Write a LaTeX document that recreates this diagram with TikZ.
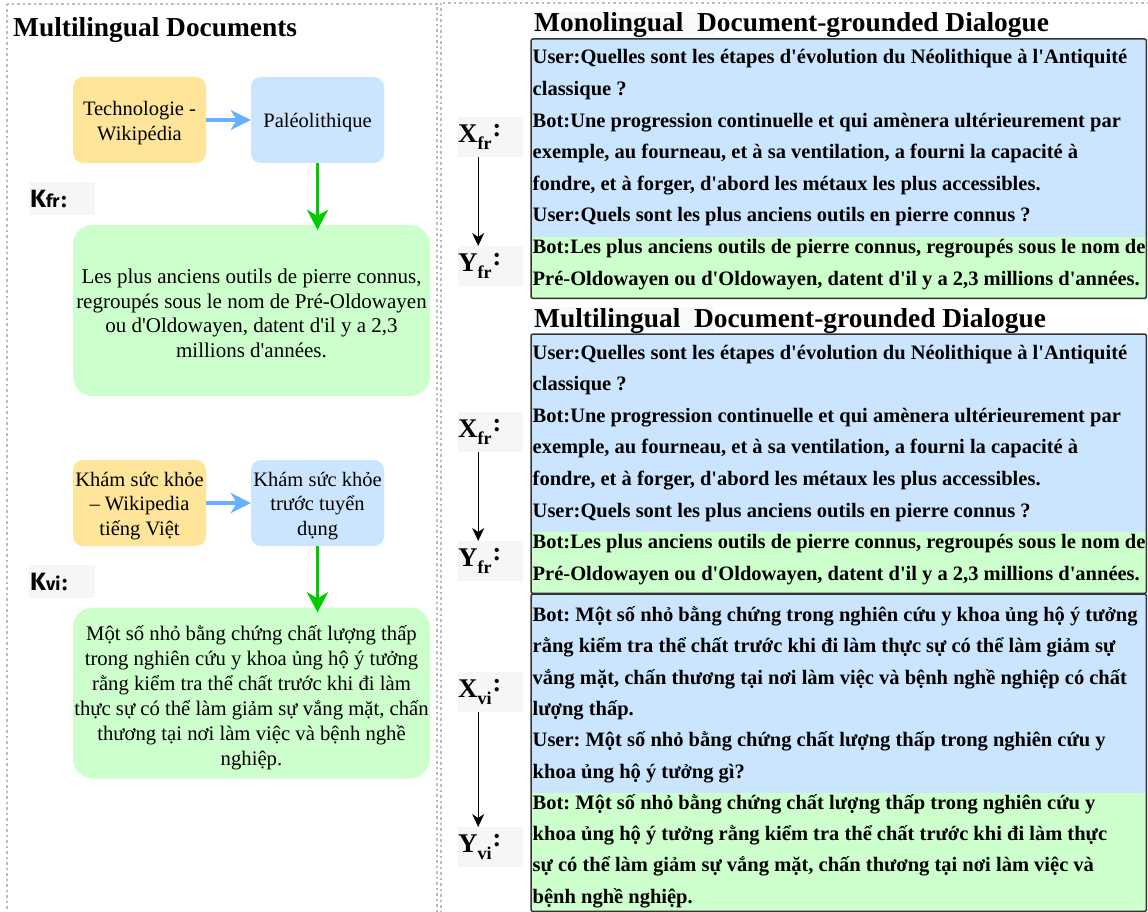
\documentclass[tikz,border=0pt]{standalone}
\usepackage{fontspec}
\setmainfont{Liberation Serif}[Ligatures=TeXOff]
\newfontfamily\kfont{Fira Sans}
\usetikzlibrary{arrows.meta}
\definecolor{boxorange}{HTML}{FFE599}
\definecolor{boxblue}{HTML}{CCE5FF}
\definecolor{boxgreen}{HTML}{CCFFCC}
\definecolor{arrowblue}{HTML}{66B2FF}
\definecolor{arrowgreen}{HTML}{00CC00}
\definecolor{labbg}{HTML}{F5F6F8}
\definecolor{titlebg}{HTML}{F8F9FA}
\definecolor{panelgray}{HTML}{BDBDBD}
\definecolor{framegray}{HTML}{333333}
\frenchspacing
\newcommand\dlab[2]{{\fontsize{27}{27}\selectfont\bfseries #1}\raisebox{-7pt}{\fontsize{18}{18}\selectfont\bfseries #2}\kern1pt\raisebox{6pt}{\fontsize{26}{26}\selectfont\bfseries :}}
\newcommand\klab[2]{{\kfont\bfseries\fontsize{25}{25}\selectfont #1}{\kfont\bfseries\fontsize{18}{18}\selectfont #2}\,{\kfont\bfseries\fontsize{22}{22}\selectfont :}}
\tikzset{
  panel/.style={draw=panelgray, line width=2.5pt, dash pattern=on 2.5pt off 3pt},
  sbox/.style={rounded corners=10pt, minimum width=133pt, minimum height=86pt, inner sep=0pt},
  obox/.style={sbox, fill=boxorange},
  bbox/.style={sbox, fill=boxblue},
  stext/.style={inner sep=0pt, align=center, font=\fontsize{20.5}{24.5}\selectfont},
  gbox/.style={rounded corners=20pt, fill=boxgreen, minimum width=357pt, minimum height=171pt, inner sep=0pt},
  gtext/.style={inner sep=0pt, align=center, font=\fontsize{21}{24.5}\selectfont},
  barrow/.style={draw=arrowblue, line width=3.5pt, -{Stealth[length=20pt,width=20pt,inset=6pt]}},
  garrow/.style={draw=arrowgreen, line width=3.5pt, -{Stealth[length=20pt,width=21pt,inset=6pt]}},
  karrow/.style={draw=black, line width=1.3pt, -{Stealth[length=13pt,width=12pt,inset=4pt]}},
  klabel/.style={fill=labbg, anchor=north west, text width=64pt, minimum height=33pt, inner sep=1pt, align=left},
  xlabel/.style={fill=labbg, anchor=north west, text width=65pt, minimum height=40pt, inner sep=0pt, align=left},
  ttl/.style={anchor=base west, inner sep=0pt, font=\fontsize{27.4}{27.4}\selectfont\bfseries},
  rt/.style={anchor=base west, inner sep=0pt, font=\fontsize{20.5}{20.5}\selectfont\bfseries},
  bpart/.style={fill=boxblue, anchor=north west, minimum width=615pt, inner sep=0pt},
  gpart/.style={fill=boxgreen, anchor=north west, minimum width=615pt, inner sep=0pt},
  frame/.style={draw=framegray, line width=1.5pt, rounded corners=2pt},
}
\begin{document}
\begin{tikzpicture}[x=1pt,y=-1pt]
\useasboundingbox (0,0) rectangle (1148,912);
\fill[white] (0,0) rectangle (1148,912);
% panels
\draw[panel] (7,4) rectangle (437,925);
\draw[panel] (441,3) rectangle (1160,925);
% ---------------- left panel
\node[ttl] (lt) at (13,37) {Multilingual Documents};
\node[obox] (tw) at (139.5,120) {};
\node[stext] (twt) at ([yshift=-3pt]tw.center) {Technologie -\\Wikipédia};
\node[bbox] (pal) at (317.5,120) {};
\node[stext] (palt) at ([yshift=-3pt]pal.center) {Paléolithique};
\node[klabel] (kfr) at (29,182) {\klab{K}{fr}};
\node[gbox] (g1) at (251.5,310.5) {};
\node[gtext] (g1t) at ([yshift=-3pt]g1.center) {Les plus anciens outils de pierre connus,\\regroupés sous le nom de Pré-Oldowayen\\ou d'Oldowayen, datent d'il y a 2,3\\millions d'années.};
\draw[barrow] (tw.east) -- (pal.west);
\draw[garrow, shorten >=-5pt] (pal.south) -- (pal.south |- g1.north);

\node[obox] (kw) at (139.5,503) {};
\node[stext] (kwt) at ([yshift=-3pt]kw.center) {Khám sức khỏe\\– Wikipedia\\tiếng Việt};
\node[bbox] (kt) at (317.5,503) {};
\node[stext] (ktt) at ([yshift=-3pt]kt.center) {Khám sức khỏe\\trước tuyển\\dụng};
\node[klabel] (kvi) at (29,565) {\klab{K}{vi}};
\node[gbox] (g2) at (251.5,693) {};
\node[gtext, font=\fontsize{20.7}{25}\selectfont] (g2t) at ([yshift=-5pt]g2.center) {Một số nhỏ bằng chứng chất lượng thấp\\trong nghiên cứu y khoa ủng hộ ý tưởng\\rằng kiểm tra thể chất trước khi đi làm\\thực sự có thể làm giảm sự vắng mặt, chấn\\thương tại nơi làm việc và bệnh nghề\\nghiệp.};
\draw[barrow] (kw.east) -- (kt.west);
\draw[garrow, shorten >=-5pt] (kt.south) -- (kt.south |- g2.north);

% ---------------- right panel
\fill[titlebg] (533,12) rectangle (716,37);
\node[ttl] (rt1) at (534,32) {Monolingual\ \ Document-grounded Dialogue};
\node[bpart, minimum height=198pt] (d1x) at (531,39) {};
\node[gpart, minimum height=61pt] (d1y) at (531,237) {};
\draw[frame] (d1x.north west) rectangle (d1y.south east);
\foreach \t [count=\i] in {{User:Quelles sont les étapes d'évolution du Néolithique à l'Antiquité},{classique ?},{Bot:Une progression continuelle et qui amènera ultérieurement par},{exemple, au fourneau, et à sa ventilation, a fourni la capacité à},{fondre, et à forger, d'abord les métaux les plus accessibles.},{User:Quels sont les plus anciens outils en pierre connus ?},{Bot:Les plus anciens outils de pierre connus, regroupés sous le nom de},{Pré-Oldowayen ou d'Oldowayen, datent d'il y a 2,3 millions d'années.}}
  \node[rt] (a\i) at (532.5,{32.4+31.6*\i}) {\t};
\node[xlabel] (x1) at (458,117) {\dlab{X}{fr}};
\node[xlabel] (y1) at (458,246) {\dlab{Y}{fr}};
\draw[karrow] ([xshift=-12.5pt]x1.south) -- ([xshift=-12.5pt]y1.north);

\fill[titlebg] (533,307) rectangle (714,332);
\node[ttl] (rt2) at (534,327) {Multilingual\ \ Document-grounded Dialogue};
\node[bpart, minimum height=198pt] (d2x) at (531,334) {};
\node[gpart, minimum height=61pt] (d2y) at (531,532) {};
\draw[frame] (d2x.north west) rectangle (d2y.south east);
\foreach \t [count=\i] in {{User:Quelles sont les étapes d'évolution du Néolithique à l'Antiquité},{classique ?},{Bot:Une progression continuelle et qui amènera ultérieurement par},{exemple, au fourneau, et à sa ventilation, a fourni la capacité à},{fondre, et à forger, d'abord les métaux les plus accessibles.},{User:Quels sont les plus anciens outils en pierre connus ?},{Bot:Les plus anciens outils de pierre connus, regroupés sous le nom de},{Pré-Oldowayen ou d'Oldowayen, datent d'il y a 2,3 millions d'années.}}
  \node[rt] (b\i) at (532.5,{327.4+31.6*\i}) {\t};
\node[xlabel] (x2) at (458,412) {\dlab{X}{fr}};
\node[xlabel] (y2) at (458,541) {\dlab{Y}{fr}};
\draw[karrow] ([xshift=-12.5pt]x2.south) -- ([xshift=-12.5pt]y2.north);

\node[bpart, minimum height=199pt] (d3x) at (531,594) {};
\node[gpart, minimum height=118pt] (d3y) at (531,793) {};
\draw[frame] (d3x.north west) rectangle (d3y.south east);
\foreach \t [count=\i] in {{Bot: Một số nhỏ bằng chứng trong nghiên cứu y khoa ủng hộ ý tưởng},{rằng kiểm tra thể chất trước khi đi làm thực sự có thể làm giảm sự},{vắng mặt, chấn thương tại nơi làm việc và bệnh nghề nghiệp có chất},{lượng thấp.},{User: Một số nhỏ bằng chứng chất lượng thấp trong nghiên cứu y},{khoa ủng hộ ý tưởng gì?},{Bot: Một số nhỏ bằng chứng chất lượng thấp trong nghiên cứu y},{khoa ủng hộ ý tưởng rằng kiểm tra thể chất trước khi đi làm thực},{sự có thể làm giảm sự vắng mặt, chấn thương tại nơi làm việc và},{bệnh nghề nghiệp.}}
  \node[rt] (c\i) at (532.5,{590.2+31.3*\i}) {\t};
\node[xlabel] (x3) at (458,672) {\dlab{X}{vi}};
\node[xlabel] (y3) at (458,827) {\dlab{Y}{vi}};
\draw[karrow] ([xshift=-12.5pt]x3.south) -- ([xshift=-12.5pt]y3.north);
\end{tikzpicture}
\end{document}
